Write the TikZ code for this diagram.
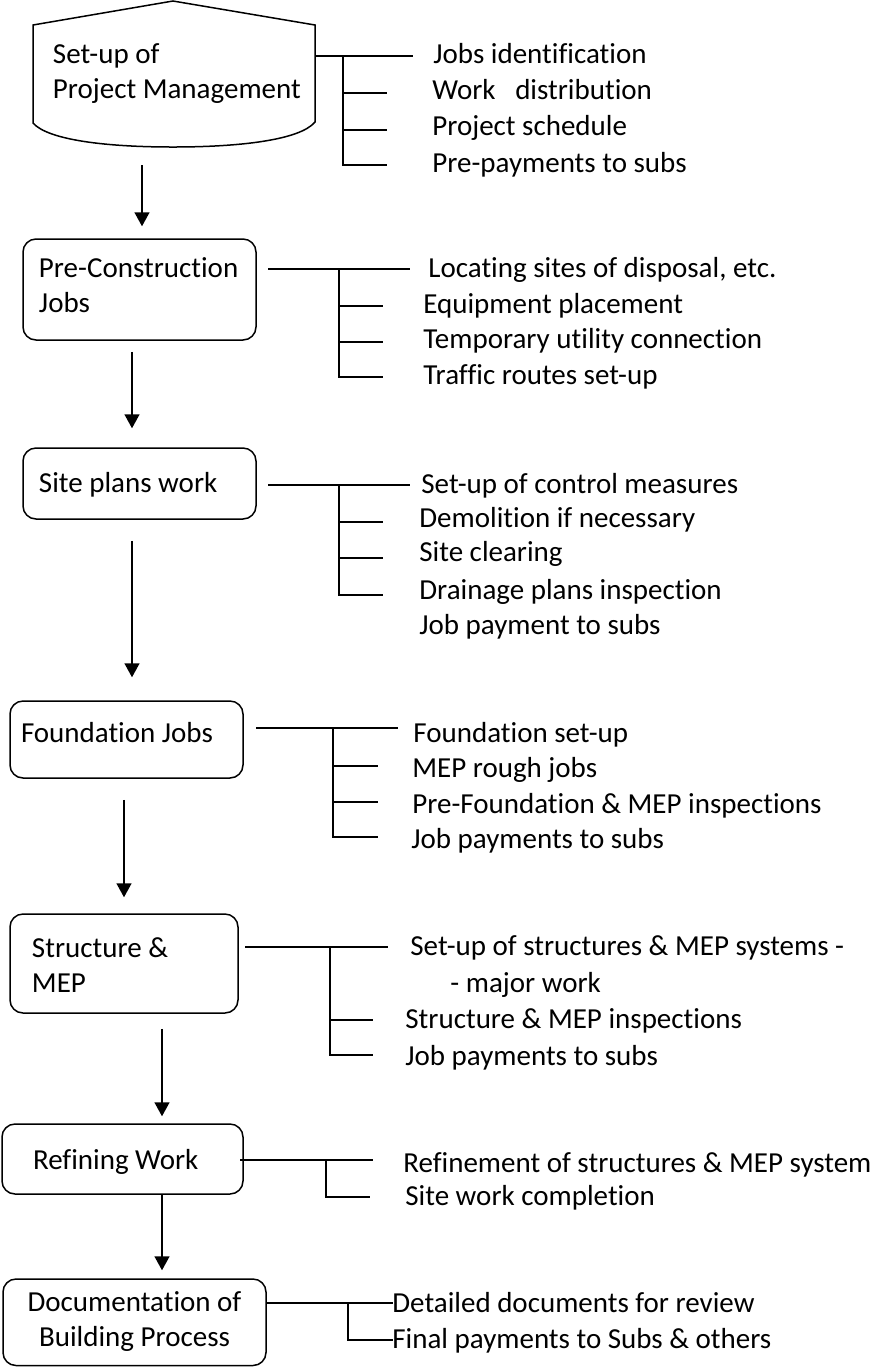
\documentclass[tikz,border=0pt]{standalone}
\usepackage{fontspec}
\setmainfont{Carlito}[Ligatures={NoCommon}]
\usetikzlibrary{arrows.meta}
\newcommand\dfont{\fontsize{14.5pt}{17.5pt}\selectfont\hyphenpenalty=10000 \exhyphenpenalty=10000 }
% #1 start x, #2 y of main line, #3 end x of main line, #4 x of vertical, #5 end x of branches, #6 branch ys
\newcommand\treelines[6]{%
  \draw[ln] (#1,#2) -- (#3,#2);
  \foreach \yy in {#6} {\draw[ln] (#4,#2) |- (#5,\yy);}
}
\begin{document}
\begin{tikzpicture}[x=0.5pt,y=-0.5pt,
  ln/.style={line width=0.75pt},
  arr/.style={line width=0.75pt,-{Triangle[width=7.5pt,length=7pt]}},
  box/.style={draw,line width=0.75pt,rounded corners=6.5pt,align=flush left,font=\dfont,inner ysep=0pt},
  item/.style={anchor=base west,inner sep=0pt,font=\dfont}]
\path[use as bounding box] (0,0) rectangle (873,1367);

% ---- top shape: Set-up of Project Management
\node[align=flush left,font=\dfont,inner ysep=0pt,minimum width=141pt,text width=121pt,inner xsep=10pt] (pm) at (174,73.5) {\strut Set-up of\\\strut\mbox{Project Management}};
\draw[ln] (33,123) -- (33,25) -- (173,1) -- (315,25) -- (315,122)
  .. controls (300,140) and (240,147) .. (173,147)
  .. controls (106,147) and (48,140) .. (33,123) -- cycle;
\coordinate (pmB) at (142,147);

% ---- boxes
\node[box,minimum width=116.5pt,minimum height=50.5pt,text width=100.5pt,inner xsep=8pt] (pc) at (139.5,289.5) {\strut\mbox{Pre-Construction}\\\strut Jobs\rule[-7.25pt]{0pt}{7.25pt}};
\node[box,minimum width=116.5pt,minimum height=35.5pt,text width=100.5pt,inner xsep=8pt] (sp) at (139.5,483.5) {\strut\rule{0pt}{13.75pt}Site plans work};
\node[box,minimum width=116.5pt,minimum height=38.5pt,text width=105.5pt,inner xsep=5.5pt] (fj) at (126.5,739.5) {\strut Foundation Jobs\rule[-9.75pt]{0pt}{9.75pt}};
\node[box,minimum width=114pt,minimum height=49.5pt,text width=92pt,inner xsep=11pt] (sm) at (124,963.5) {\strut\rule{0pt}{16.25pt}Structure \&\\\strut MEP};
\node[box,minimum width=120.5pt,minimum height=35pt,text width=89.5pt,inner xsep=15.5pt] (rw) at (122.5,1159) {\strut\rule{0pt}{15.25pt}Refining Work};
\node[box,minimum width=131.5pt,minimum height=43.25pt,text width=123.5pt,inner xsep=4pt,align=flush center] (dp) at (134.5,1322.25) {\strut Documentation of\\\strut Building Process};

% ---- flow arrows
\draw[arr,shorten <=9pt,shorten >=6pt] (pmB) -- (pc.north -| 142,0);
\draw[arr,shorten <=5.5pt,shorten >=9.5pt] (pc.south -| 132,0) -- (sp.north -| 132,0);
\draw[arr,shorten <=10.5pt,shorten >=11.5pt] (sp.south -| 132,0) -- (fj.north -| 132,0);
\draw[arr,shorten <=10.5pt,shorten >=8pt] (fj.south -| 124,0) -- (sm.north -| 124,0);
\draw[arr,shorten <=7.5pt,shorten >=3.5pt] (sm.south -| 162,0) -- (rw.north -| 162,0);
\draw[arr,shorten >=4pt] (rw.south -| 162,0) -- (dp.north -| 162,0);

% ---- tree connectors
\treelines{315}{56}{413}{343}{387}{93,130,165}
\treelines{268}{269}{410}{339}{383}{306,342,377}
\treelines{268}{485}{410}{339}{383}{522,558,595}
\treelines{256}{728}{398}{333}{378}{766,802,837}
\treelines{245}{947}{388}{330}{373}{1020,1055}
\treelines{240}{1160}{373}{326}{370}{1197}
\treelines{267}{1303}{393}{348}{393}{1340}

% ---- item texts
\node[item] (t11) at (433,63) {Jobs identification};
\node[item] (t12) at (432,99) {Work~~ distribution};
\node[item] (t13) at (432,135) {Project schedule};
\node[item] (t14) at (432,172) {Pre-payments to subs};

\node[item] (t21) at (428,277) {Locating sites of disposal, etc.};
\node[item] (t22) at (423,313) {Equipment placement};
\node[item] (t23) at (423,348) {Temporary utility connection};
\node[item] (t24) at (423,384) {Traffic routes set-up};

\node[item] (t31) at (421,493) {Set-up of control measures};
\node[item] (t32) at (419,527) {Demolition if necessary};
\node[item] (t33) at (419,561) {Site clearing};
\node[item] (t34) at (419,599) {Drainage plans inspection};
\node[item] (t35) at (419,634) {Job payment to subs};

\node[item] (t41) at (413,742) {Foundation set-up};
\node[item] (t42) at (412,777) {MEP rough jobs};
\node[item] (t43) at (412,813) {Pre-Foundation \& MEP inspections};
\node[item] (t44) at (411,848) {Job payments to subs};

\node[item] (t51) at (410,955) {Set-up of structures \& MEP systems -};
\node[item] (t52) at (450,992) {- major work};
\node[item] (t53) at (405,1028) {Structure \& MEP inspections};
\node[item] (t54) at (405,1065) {Job payments to subs};

\node[item] (t61) at (403,1172) {Refinement of structures \& MEP system};
\node[item] (t62) at (405,1205) {Site work completion};

\node[item] (t71) at (392,1312) {Detailed documents for review};
\node[item] (t72) at (392,1348) {Final payments to Subs \& others};
\end{tikzpicture}
\end{document}
